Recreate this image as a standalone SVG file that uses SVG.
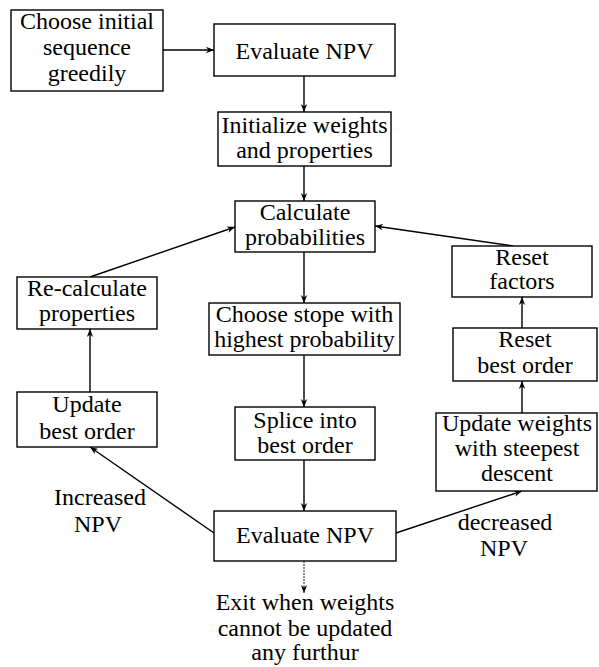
<svg xmlns="http://www.w3.org/2000/svg" width="599" height="667" viewBox="0 0 599 667">
  <defs>
    <marker id="arrow" viewBox="0 0 10 10" refX="10" refY="5" markerWidth="8" markerHeight="8" markerUnits="userSpaceOnUse" orient="auto">
      <path d="M0,1 L10,5 L0,9 L3,5 Z" fill="#000"/>
    </marker>
  </defs>
  <style>
    rect { fill: #fff; stroke: #000; stroke-width: 1.4; }
    text { font-family: "Liberation Serif", "Times New Roman", serif; font-size: 24px; fill: #000; text-anchor: middle; }
    .conn line { stroke: #000; stroke-width: 1.4; marker-end: url(#arrow); }
    .conn line.exit { stroke: #222; stroke-width: 1; stroke-dasharray: 2 1; }
  </style>

  <rect x="0" y="0" width="599" height="667" style="fill:#fff;stroke:none"/>

  <!-- connectors -->
  <g id="connectors" class="conn">
    <line x1="163" y1="50" x2="214" y2="50"/>
    <line x1="304" y1="76" x2="304" y2="112"/>
    <line x1="304" y1="166" x2="304" y2="201"/>
    <line x1="304" y1="252" x2="304" y2="303"/>
    <line x1="304" y1="355" x2="304" y2="407"/>
    <line x1="304" y1="460" x2="304" y2="511"/>
    <line class="exit" x1="304" y1="561" x2="304" y2="593"/>
    <line x1="214" y1="533" x2="90" y2="447"/>
    <line x1="90" y1="392" x2="90" y2="329"/>
    <line x1="90" y1="277" x2="235" y2="227"/>
    <line x1="396" y1="533" x2="522" y2="491"/>
    <line x1="522" y1="413" x2="522" y2="381"/>
    <line x1="522" y1="328" x2="522" y2="297"/>
    <line x1="513" y1="246" x2="375" y2="226"/>
  </g>

  <g id="choose-initial">
    <rect x="11" y="10" width="152" height="81"/>
    <text x="87" y="29">Choose initial</text>
    <text x="87" y="55">sequence</text>
    <text x="87" y="81">greedily</text>
  </g>

  <g id="evaluate-npv-1">
    <rect x="214" y="24" width="181" height="52"/>
    <text x="304.5" y="59">Evaluate NPV</text>
  </g>

  <g id="initialize">
    <rect x="218" y="112" width="173" height="54"/>
    <text x="304.5" y="133">Initialize weights</text>
    <text x="304.5" y="158">and properties</text>
  </g>

  <g id="calculate">
    <rect x="235" y="201" width="140" height="51"/>
    <text x="305" y="220">Calculate</text>
    <text x="305" y="245">probabilities</text>
  </g>

  <g id="recalculate">
    <rect x="17" y="277" width="140" height="52"/>
    <text x="87" y="296">Re-calculate</text>
    <text x="87" y="321">properties</text>
  </g>

  <g id="choose-stope">
    <rect x="209" y="303" width="191" height="52"/>
    <text x="304.5" y="322">Choose stope with</text>
    <text x="304.5" y="347">highest probability</text>
  </g>

  <g id="splice">
    <rect x="235" y="407" width="140" height="53"/>
    <text x="305" y="428">Splice into</text>
    <text x="305" y="453">best order</text>
  </g>

  <g id="update-best">
    <rect x="17" y="392" width="140" height="55"/>
    <text x="87" y="412">Update</text>
    <text x="87" y="439">best order</text>
  </g>

  <g id="evaluate-npv-2">
    <rect x="214" y="511" width="182" height="50"/>
    <text x="305" y="543">Evaluate NPV</text>
  </g>

  <g id="reset-factors">
    <rect x="452" y="246" width="140" height="51"/>
    <text x="522" y="265">Reset</text>
    <text x="522" y="289">factors</text>
  </g>

  <g id="reset-best">
    <rect x="453" y="328" width="144" height="53"/>
    <text x="525" y="347">Reset</text>
    <text x="525" y="373">best order</text>
  </g>

  <g id="update-weights">
    <rect x="436" y="413" width="161" height="78"/>
    <text x="517" y="431">Update weights</text>
    <text x="517" y="456">with steepest</text>
    <text x="517" y="481">descent</text>
  </g>

  <g id="label-increased">
    <text x="100" y="505">Increased</text>
    <text x="98" y="532">NPV</text>
  </g>

  <g id="label-decreased">
    <text x="505" y="530">decreased</text>
    <text x="504" y="556">NPV</text>
  </g>

  <g id="exit">
    <text x="305" y="610">Exit when weights</text>
    <text x="305" y="636">cannot be updated</text>
    <text x="305" y="660">any furthur</text>
  </g>
</svg>
